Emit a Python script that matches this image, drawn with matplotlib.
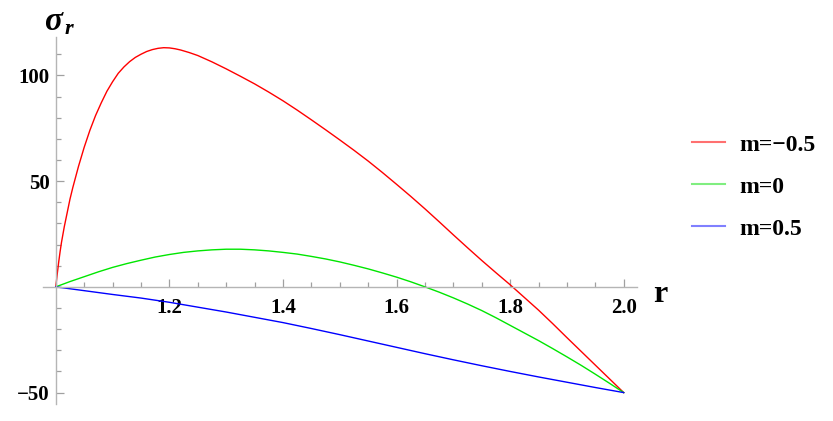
import matplotlib
matplotlib.use("Agg")
import matplotlib.pyplot as plt
from matplotlib.lines import Line2D
from matplotlib.ticker import MultipleLocator

# values
r_red = [1.000, 1.0025, 1.005, 1.0075, 1.01, 1.015, 1.02, 1.025, 1.03, 1.035,
         1.04, 1.045, 1.05, 1.055, 1.06, 1.07, 1.08, 1.09, 1.10, 1.11, 1.12,
         1.13, 1.14, 1.15, 1.16, 1.17, 1.18, 1.19, 1.20, 1.21, 1.22, 1.235,
         1.25, 1.275, 1.30, 1.325, 1.35, 1.375, 1.40, 1.425, 1.45, 1.475,
         1.50, 1.525, 1.55, 1.575, 1.60, 1.625, 1.65, 1.675, 1.70, 1.725,
         1.75, 1.775, 1.80, 1.825, 1.85, 1.875, 1.90, 1.925, 1.95, 1.975, 2.00]
s_red = [0, 6, 11.5, 16.5, 21, 28.5, 35, 41.5, 47, 52,
         57, 61.5, 66, 70, 74, 81, 87, 92.5, 97, 101, 104,
         106.5, 108.5, 110, 111.3, 112.2, 112.8, 113.1, 113, 112.6, 112, 110.8,
         109.4, 106.4, 103.1, 99.6, 96, 92.1, 88, 83.6, 79, 74.3,
         69.5, 64.6, 59.5, 54.1, 48.5, 42.8, 36.9, 30.8, 24.6, 18.5,
         12.5, 6.7, 1, -5, -11, -17.4, -24, -30.5, -37, -43.5, -50]

r_green = [1.000, 1.025, 1.05, 1.075, 1.10, 1.125, 1.15, 1.175, 1.20, 1.225,
           1.25, 1.275, 1.30, 1.325, 1.35, 1.375, 1.40, 1.425, 1.45, 1.475,
           1.50, 1.525, 1.55, 1.575, 1.60, 1.625, 1.65, 1.675, 1.70, 1.725,
           1.75, 1.775, 1.80, 1.825, 1.85, 1.875, 1.90, 1.925, 1.95, 1.975, 2.00]
s_green = [0, 2.5, 4.8, 7.1, 9.2, 11.0, 12.6, 14.1, 15.3, 16.3,
           17.0, 17.5, 17.8, 17.8, 17.5, 17.0, 16.3, 15.5, 14.4, 13.2,
           11.8, 10.2, 8.5, 6.6, 4.6, 2.4, 0, -2.5, -5.2, -8.1,
           -11.2, -14.6, -18.2, -21.8, -25.4, -29.2, -33.1, -37.1, -41.3, -45.6, -50]

r_blue = [1.00, 1.05, 1.10, 1.15, 1.20, 1.25, 1.30, 1.35, 1.40, 1.45, 1.50,
          1.55, 1.60, 1.65, 1.70, 1.75, 1.80, 1.85, 1.90, 1.95, 2.00]
s_blue = [0, -1.8, -3.6, -5.3, -7.3, -9.6, -11.9, -14.4, -16.9, -19.7, -22.6,
          -25.6, -28.6, -31.6, -34.5, -37.3, -40.0, -42.6, -45.1, -47.6, -50]

labels = ["m=\u22120.5", "m=0", "m=0.5"]
colors = ["#ff0000", "#00e600", "#0000ff"]
legend_colors = ["#ff7070", "#80ee80", "#8080ff"]

x_ticks = [1.2, 1.4, 1.6, 1.8, 2.0]
x_ticklabels = ["1.2", "1.4", "1.6", "1.8", "2.0"]
y_ticks = [-50, 50, 100]
y_ticklabels = ["\u221250", "50", "100"]

W, H = 833, 421
fig = plt.figure(figsize=(W / 100, H / 100), dpi=100)
ax = fig.add_axes([43.3 / W, 17 / H, (636.7 - 43.3) / W, (404 - 36.7) / H])

ax.plot(r_red, s_red, color=colors[0], lw=1.0)
ax.plot(r_green, s_green, color=colors[1], lw=1.0)
ax.plot(r_blue, s_blue, color=colors[2], lw=1.0)

ax.set_xlim(0.978, 2.0229)
ax.set_ylim(-55.4, 118.3)

for side in ["top", "right"]:
    ax.spines[side].set_visible(False)
ax.spines["left"].set_position(("data", 1.0))
ax.spines["bottom"].set_position(("data", 0.0))
for side in ["left", "bottom"]:
    ax.spines[side].set_color("#b5b5b5")
    ax.spines[side].set_linewidth(1.0)

tick_font = dict(family="Liberation Serif", weight="bold", size=15)
ax.set_xticks(x_ticks)
ax.set_xticklabels(x_ticklabels, fontdict=tick_font)
ax.set_yticks(y_ticks)
ax.set_yticklabels(y_ticklabels, fontdict=tick_font)
ax.xaxis.set_minor_locator(MultipleLocator(0.05))
ax.yaxis.set_minor_locator(MultipleLocator(10))
ax.tick_params(which="both", direction="in", color="#a0a0a0", width=0.9)
ax.tick_params(which="major", length=6)
ax.tick_params(which="minor", length=3.5)
ax.tick_params(axis="x", which="major", pad=8)
ax.tick_params(axis="y", which="major", pad=4.6)

# axis labels
fig.text(653 / W, 1 - 302 / H, "r", family="Liberation Serif", weight="bold",
         size=23, va="baseline", ha="left")
fig.text(44 / W, 1 - 30 / H, "\u03c3", family="Liberation Serif", style="italic",
         weight="bold", size=24, va="baseline", ha="left")
fig.text(65 / W, 1 - 34 / H, "r", family="Liberation Serif", style="italic",
         weight="bold", size=16, va="baseline", ha="left")

handles = [Line2D([], [], color=c, lw=1.5) for c in legend_colors]
ax.legend(handles, labels, loc="upper left", bbox_to_anchor=(692 / W, 1 - 134 / H),
          bbox_transform=fig.transFigure, frameon=False, borderpad=0,
          borderaxespad=0, handlelength=1.4, handletextpad=0.62,
          labelspacing=0.87,
          prop=dict(family="Liberation Serif", weight="bold", size=17))

fig.savefig("out.png", dpi=100)
